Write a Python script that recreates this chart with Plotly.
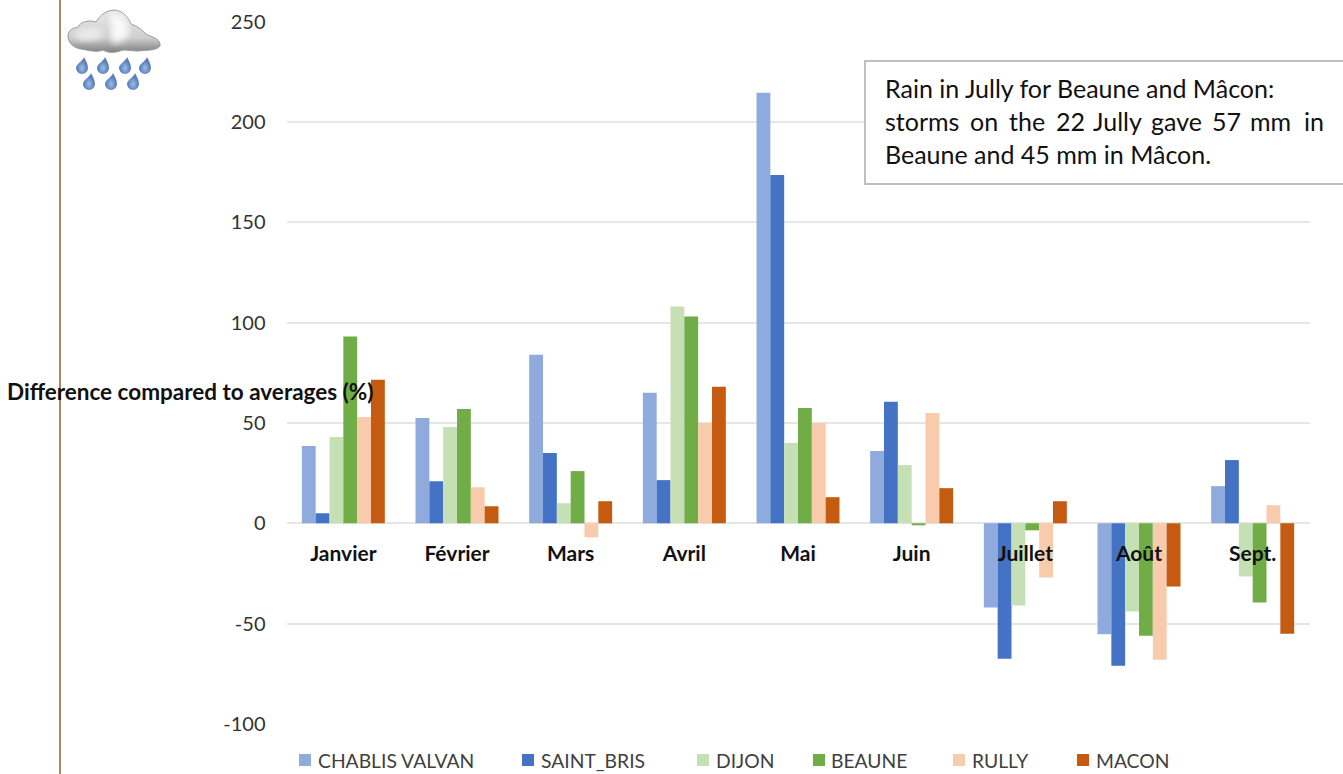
import base64
import plotly.graph_objects as go

W, H = 1343, 774

months = ["Janvier", "Février", "Mars", "Avril", "Mai", "Juin", "Juillet", "Août", "Sept."]
chablis_valvan = [38.5, 52.5, 84, 65, 214.5, 36, -42, -55.3, 18.5]
saint_bris = [5, 21, 35, 21.5, 173.5, 60.5, -67.5, -71, 31.5]
dijon = [43, 48, 10, 108, 40, 29, -41, -44, -26.5]
beaune = [93, 57, 26, 103, 57.5, -1, -3.5, -56, -39.5]
rully = [53, 18, -7, 50, 50, 55, -27, -68, 9]
macon = [71.5, 8.5, 11, 68, 13, 17.5, 11, -31.5, -55]

series_names = ["CHABLIS VALVAN", "SAINT_BRIS", "DIJON", "BEAUNE", "RULLY", "MACON"]
series_values = [chablis_valvan, saint_bris, dijon, beaune, rully, macon]
series_colors = ["#8FAADC", "#4472C4", "#C5E0B4", "#70AD47", "#F8CBAD", "#C55A11"]
key_swatch_x = [299, 522, 697, 813, 953, 1077]
y_ticks = [-100, -50, 0, 50, 100, 150, 200, 250]
y_tick_labels = ["-100", "-50", "0", "50", "100", "150", "200", "250"]

note_first = "Rain in Jully for Beaune and Mâcon:"
note_last = "Beaune and 45 mm in Mâcon."
# The middle line of the note is justified, so its words are placed one by one
note_middle_words = ["storms", "on", "the", "22", "Jully", "gave", "57", "mm", "in"]
note_middle_x = [885, 970, 1009, 1056, 1093, 1151, 1212, 1250, 1304]
FONT = "Lato, Carlito, Calibri, sans-serif"


def px(x):
    return x / W


def py(y):
    return 1 - y / H


# Rain cloud emblem, written as an inline vector image
drop_positions = [(16, 63), (37, 63), (59, 63), (79, 63), (23, 79), (45, 79), (67, 79)]
drops = "".join(
    f'<path d="M{x+2},{y-9} C{x+1},{y-5} {x-6},{y-2} {x-6},{y+2} '
    f'A6,6 0 0 0 {x+6},{y+2} C{x+6},{y-2} {x+4},{y-5} {x+2},{y-9}Z" fill="url(#d)"/>'
    for x, y in drop_positions
)
icon_svg = f"""<svg xmlns="http://www.w3.org/2000/svg" width="100" height="90" viewBox="0 0 100 90">
<defs>
<linearGradient id="c" x1="0" y1="0" x2="0" y2="1"><stop offset="0" stop-color="#e8e8e8"/>
<stop offset="0.65" stop-color="#d0d0d0"/><stop offset="1" stop-color="#808080"/></linearGradient>
<radialGradient id="d" cx="0.5" cy="0.65" r="0.6"><stop offset="0" stop-color="#9dbbe6"/>
<stop offset="0.7" stop-color="#5a80bd"/><stop offset="1" stop-color="#6a7f9f"/></radialGradient>
<filter id="b"><feGaussianBlur stdDeviation="0.7"/></filter>
<filter id="h"><feGaussianBlur stdDeviation="3"/></filter>
</defs>
<g filter="url(#b)">
<path d="M2,33 C2,27 7,25 12,24 C15,18 24,17 30,19 C34,12 41,7 49,7 C56,8 62,13 65,21
C72,23 77,28 81,32 C88,34 95,37 94,43 C90,48 80,47 72,48 C64,48 58,46 54,48 C48,50 42,50 37,47
C30,50 22,47 15,46 C8,45 2,40 2,33Z" fill="url(#c)" stroke="#999" stroke-width="1"/>
<path d="M44,12 C54,9 62,18 63,26 C65,33 58,38 47,41 C44,33 46,22 44,12Z" fill="#ffffff" opacity="0.85" filter="url(#h)"/>
<path d="M10,30 C16,25 28,24 36,27 C38,32 32,38 22,38 C14,38 8,36 10,30Z" fill="#f6f6f6" opacity="0.7" filter="url(#h)"/>
{drops}
</g></svg>"""
icon_uri = "data:image/svg+xml;base64," + base64.b64encode(icon_svg.encode()).decode()

fig = go.Figure()
for name, values, color in zip(series_names, series_values, series_colors):
    fig.add_trace(go.Bar(name=name, x=months, y=values, marker=dict(color=color, line_width=0)))

shapes = [
    # Brown rule down the left side of the page
    dict(type="line", xref="paper", yref="paper", x0=px(60), x1=px(60), y0=0, y1=1,
         line=dict(color="#A88A56", width=2)),
    # Frame behind the note on the July storms
    dict(type="rect", xref="paper", yref="paper", x0=px(865), x1=px(1350), y0=py(184), y1=py(61),
         fillcolor="white", line=dict(color="#BFBFBF", width=2)),
]


def label(x, y, text, size, color="#111111"):
    # Left-aligned text; the shift takes up the annotation's built-in padding
    return dict(xref="paper", yref="paper", x=px(x), y=py(y), xanchor="left", yanchor="middle",
                xshift=-2, text=text, showarrow=False, font=dict(family=FONT, size=size, color=color))


annotations = [
    label(7, 391, "<b>Difference compared to averages (%)</b>", 22.5),
    label(885, 88, note_first, 25),
    label(885, 154, note_last, 25),
]
for word, x in zip(note_middle_words, note_middle_x):
    annotations.append(label(x, 121, word, 25))

# Key along the foot of the chart, spaced to the width of each station name
for name, color, x in zip(series_names, series_colors, key_swatch_x):
    shapes.append(dict(type="rect", xref="paper", yref="paper", x0=px(x), x1=px(x + 12),
                       y0=py(766), y1=py(754), fillcolor=color, line_width=0))
    annotations.append(label(x + 18.5, 760, name, 19.3, "#404040"))

fig.update_layout(
    width=W, height=H, autosize=False,
    margin=dict(l=0, r=0, t=0, b=0, autoexpand=False),
    paper_bgcolor="white", plot_bgcolor="white",
    barmode="group", bargap=0.27, bargroupgap=0,
    showlegend=False,
    shapes=shapes, annotations=annotations,
    images=[dict(source=icon_uri, xref="paper", yref="paper", x=px(66), y=py(3),
                 sizex=100 / W, sizey=90 / H, xanchor="left", yanchor="top",
                 sizing="stretch", layer="above")],
    xaxis=dict(
        domain=[px(286.5), px(1309.5)], anchor="free", position=py(523),
        showgrid=False, showline=False, zeroline=False,
        ticks="outside", ticklen=12, tickcolor="rgba(0,0,0,0)",
        tickfont=dict(family=FONT, size=21, color="#111111", weight="bold"),
    ),
    yaxis=dict(
        domain=[py(724), py(21.5)], range=[-100, 250], tickvals=y_ticks, ticktext=y_tick_labels,
        ticks="outside", ticklen=16, tickcolor="rgba(0,0,0,0)",
        gridcolor="#E6E6E6", gridwidth=1.5, zeroline=True, zerolinecolor="#E6E6E6", zerolinewidth=1.5,
        showline=False, tickfont=dict(family=FONT, size=20, color="#333333"),
    ),
)

fig.write_html("out.html", config={"displayModeBar": False})
